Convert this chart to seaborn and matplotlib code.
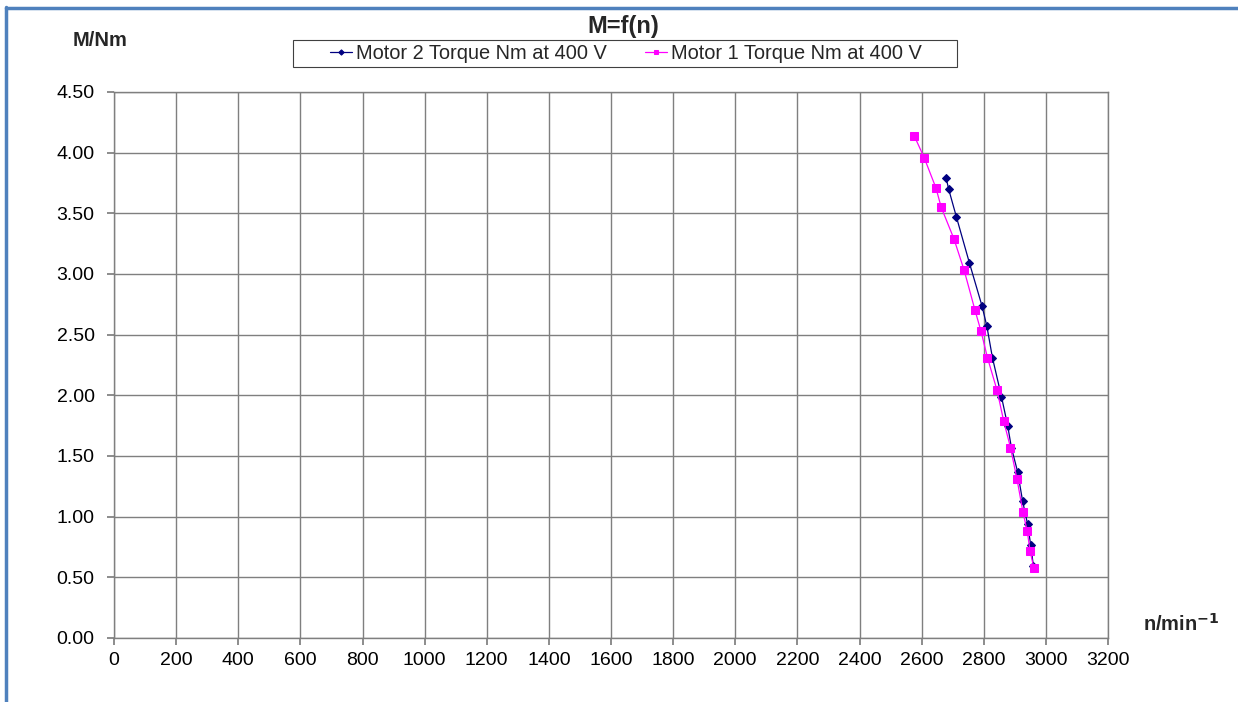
import numpy as np
import pandas as pd
import matplotlib
matplotlib.use("Agg")
import matplotlib.pyplot as plt
import seaborn as sns
from matplotlib.lines import Line2D
from matplotlib.patches import Rectangle

# Data
motor2_speed = [2679, 2687, 2712, 2754, 2794, 2810, 2828, 2857, 2877, 2889, 2909, 2925, 2941, 2951, 2960]
motor2_torque = [3.79, 3.70, 3.47, 3.09, 2.74, 2.57, 2.31, 1.99, 1.75, 1.57, 1.37, 1.13, 0.94, 0.77, 0.59]
motor1_speed = [2576, 2608, 2646, 2663, 2704, 2737, 2772, 2791, 2812, 2843, 2864, 2886, 2907, 2926, 2940, 2949, 2961]
motor1_torque = [4.14, 3.96, 3.71, 3.55, 3.29, 3.03, 2.70, 2.53, 2.31, 2.04, 1.79, 1.57, 1.31, 1.04, 0.88, 0.72, 0.58]
series_names = ["Motor 2 Torque Nm at 400 V", "Motor 1 Torque Nm at 400 V"]
x_ticks = list(range(0, 3201, 200))
y_ticks = [0.0, 0.5, 1.0, 1.5, 2.0, 2.5, 3.0, 3.5, 4.0, 4.5]

sns.set_theme(style="white")
plt.rcParams['font.family'] = ['Liberation Sans', 'DejaVu Sans']

W, H = 1238, 702
fig = plt.figure(figsize=(W / 100, H / 100), dpi=100)
fig.patch.set_facecolor("white")
# blue frame (top and left edges)
frame_col = "#4F81BD"
fig.add_artist(Line2D([6 / W, 1.0], [1 - 7.5 / H, 1 - 7.5 / H], transform=fig.transFigure,
                      color=frame_col, linewidth=2.5))
fig.add_artist(Line2D([6 / W, 6 / W], [0.0, 1 - 6.5 / H], transform=fig.transFigure,
                      color=frame_col, linewidth=2.5))

ax = fig.add_axes([114 / W, 1 - 638 / H, (1108 - 114) / W, (638 - 92) / H])

df2 = pd.DataFrame({"n": motor2_speed, "M": motor2_torque})
df1 = pd.DataFrame({"n": motor1_speed, "M": motor1_torque})

sns.lineplot(data=df2, x="n", y="M", sort=False, ax=ax, color="#000080", linewidth=0.9,
             marker="D", markersize=4.5, markeredgecolor="#000080", label=series_names[0], zorder=3)
sns.lineplot(data=df1, x="n", y="M", sort=False, ax=ax, color="#FF00FF", linewidth=0.9,
             marker="s", markersize=5.5, markeredgecolor="#FF00FF", label=series_names[1], zorder=4)

ax.set_xlim(0, 3200)
ax.set_ylim(0, 4.5)
ax.set_xticks(x_ticks)
ax.set_yticks(y_ticks)
ax.set_xticklabels([str(v) for v in x_ticks], fontsize=14)
ax.set_yticklabels([f"{v:.2f}" for v in y_ticks], fontsize=14)
ax.grid(True, color="#7f7f7f", linewidth=1.0)
ax.set_axisbelow(True)
for s in ax.spines.values():
    s.set_color("#7f7f7f")
    s.set_linewidth(1.0)
ax.tick_params(axis="both", which="major", length=5, color="#7f7f7f", direction="out",
               left=True, bottom=True, labelcolor="black")
ax.tick_params(axis="y", pad=9)
ax.tick_params(axis="x", pad=5)
ax.set_xlabel("")
ax.set_ylabel("")

fig.text(623 / W, 1 - 27 / H, "M=f(n)", ha="center", va="center", fontsize=17, fontweight="bold")
fig.text(100 / W, 1 - 40 / H, "M/Nm", ha="center", va="center", fontsize=14.5, fontweight="bold")
fig.text(1181 / W, 1 - 624 / H, "n/min$^{\\mathbf{-1}}$", ha="center", va="center",
         fontsize=14.5, fontweight="bold")

# legend box (square frame)
fig.add_artist(Rectangle((293 / W, 1 - 67 / H), (957 - 293) / W, 27 / H, transform=fig.transFigure,
                         fill=True, facecolor="white", edgecolor="#404040", linewidth=0.8, zorder=5))
handles, labels = ax.get_legend_handles_labels()
if ax.get_legend() is not None:
    ax.get_legend().remove()
leg = fig.legend(handles, labels, loc="center", bbox_to_anchor=(626 / W, 1 - 53.5 / H),
                 bbox_transform=fig.transFigure,
                 ncol=2, frameon=False, fontsize=14.4, handlelength=1.1,
                 columnspacing=1.9, borderpad=0.1, handletextpad=0.2, markerscale=0.6,
                 borderaxespad=0)
leg.set_zorder(6)

fig.savefig("out.png", dpi=100, facecolor="white")
